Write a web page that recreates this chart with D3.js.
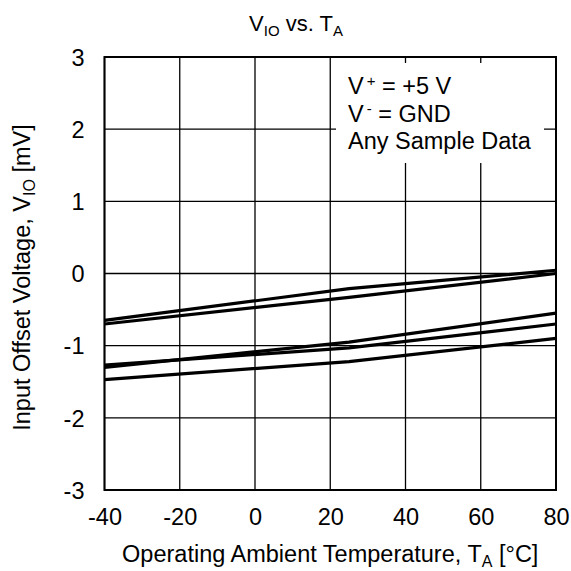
<!DOCTYPE html>
<html>
<head>
<meta charset="utf-8">
<script src="https://cdn.jsdelivr.net/npm/d3@7"></script>
<style>
  html, body { margin: 0; padding: 0; background: #fff; }
  svg { display: block; }
  text { font-family: "Liberation Sans", Arial, sans-serif; fill: #000; }
</style>
</head>
<body>
<svg id="chart" width="571" height="571"></svg>
<script>
// ---- data ----
const temperatures = [-40, 25, 80];
const sample1 = [-0.65, -0.21, 0.045];
const sample2 = [-0.70, -0.33, 0.0];
const sample3 = [-1.30, -0.95, -0.55];
const sample4 = [-1.27, -1.03, -0.70];
const sample5 = [-1.47, -1.22, -0.90];
const seriesList = [sample1, sample2, sample3, sample4, sample5];
const xTicks = [-40, -20, 0, 20, 40, 60, 80];
const yTicks = [-3, -2, -1, 0, 1, 2, 3];
const legendLines = [["V", "+", " = +5 V"], ["V", "-", " = GND"], ["Any Sample Data", "", ""]];

// ---- layout ----
const W = 571, H = 571;
const plot = { left: 104.5, right: 556, top: 57, bottom: 490 };
const FS = 23.5;
const fmt = d => String(d); // plain hyphen-minus as in the reference

const svg = d3.select("#chart");
const x = d3.scaleLinear().domain([-40, 80]).range([plot.left, plot.right]);
const y = d3.scaleLinear().domain([-3, 3]).range([plot.bottom, plot.top]);

// grid
const grid = svg.append("g");
grid.selectAll("line.vx").data(xTicks).enter().append("line")
  .attr("x1", d => x(d)).attr("x2", d => x(d))
  .attr("y1", plot.top).attr("y2", plot.bottom)
  .attr("stroke", "#000").attr("stroke-width", 1.3);
grid.selectAll("line.hy").data(yTicks).enter().append("line")
  .attr("y1", d => y(d)).attr("y2", d => y(d))
  .attr("x1", plot.left).attr("x2", plot.right)
  .attr("stroke", "#000").attr("stroke-width", 1.3);

// legend background box (hides grid)
svg.append("rect").attr("x", 336).attr("y", 63).attr("width", 208).attr("height", 100).attr("fill", "#fff");

// series
const line = d3.line().x((d, i) => x(temperatures[i])).y(d => y(d));
svg.append("g").selectAll("path").data(seriesList).enter().append("path")
  .attr("d", line).attr("fill", "none").attr("stroke", "#000").attr("stroke-width", 3.2);

// frame
svg.append("rect").attr("x", plot.left).attr("y", plot.top)
  .attr("width", plot.right - plot.left).attr("height", plot.bottom - plot.top)
  .attr("fill", "none").attr("stroke", "#000").attr("stroke-width", 2);

// axes (labels only)
const xAxis = d3.axisBottom(x).tickValues(xTicks).tickSize(0).tickPadding(0).tickFormat(fmt);
const gx = svg.append("g").attr("transform", `translate(0,${plot.bottom})`).call(xAxis);
gx.select(".domain").remove();
gx.selectAll("text").attr("font-size", FS).attr("font-family", "Liberation Sans, Arial, sans-serif")
  .attr("dy", null).attr("y", 35).attr("fill", "#000");

const yAxis = d3.axisLeft(y).tickValues(yTicks).tickSize(0).tickPadding(20).tickFormat(fmt);
const gy = svg.append("g").attr("transform", `translate(${plot.left},0)`).call(yAxis);
gy.select(".domain").remove();
gy.selectAll("text").attr("font-size", FS).attr("font-family", "Liberation Sans, Arial, sans-serif")
  .attr("dy", "0.35em").attr("fill", "#000");

// title
const title = svg.append("text").attr("x", 296).attr("y", 31).attr("text-anchor", "middle").attr("font-size", 22);
title.append("tspan").text("V");
title.append("tspan").attr("font-size", 15).attr("dy", 5).text("IO");
title.append("tspan").attr("dy", -5).text(" vs. T");
title.append("tspan").attr("font-size", 15).attr("dy", 5).text("A");

// x axis title
const xt = svg.append("text").attr("x", (plot.left + plot.right) / 2).attr("y", 562).attr("text-anchor", "middle").attr("font-size", FS);
xt.append("tspan").text("Operating Ambient Temperature, T");
xt.append("tspan").attr("font-size", 16).attr("dy", 5).text("A");
xt.append("tspan").attr("dy", -5).text(" [°C]");

// y axis title
const yt = svg.append("text").attr("transform", `translate(30,${(plot.top + plot.bottom) / 2 + 4}) rotate(-90)`)
  .attr("text-anchor", "middle").attr("font-size", FS);
yt.append("tspan").text("Input Offset Voltage, V");
yt.append("tspan").attr("font-size", 16).attr("dy", 5).text("IO");
yt.append("tspan").attr("dy", -5).text(" [mV]");

// legend text
const lg = svg.append("g");
legendLines.forEach((parts, i) => {
  const t = lg.append("text").attr("x", 348).attr("y", 94 + i * 27.5).attr("font-size", FS);
  t.append("tspan").text(parts[0]);
  if (parts[1]) {
    t.append("tspan").attr("font-size", 15).attr("dx", 3).attr("dy", -8).text(parts[1]);
    t.append("tspan").attr("dy", 8).text(parts[2]);
  }
});
</script>
</body>
</html>
